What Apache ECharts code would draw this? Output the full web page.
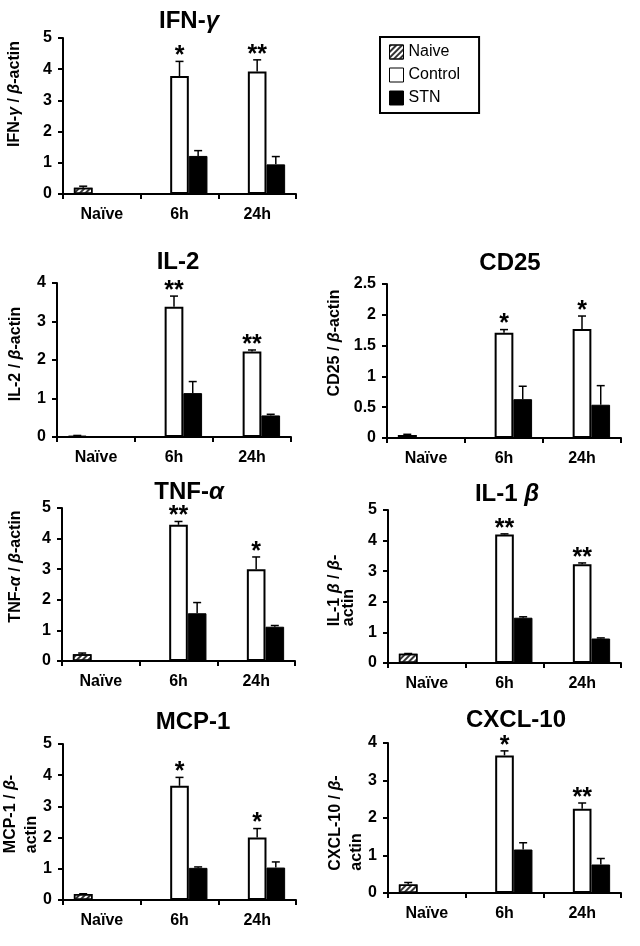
<!DOCTYPE html>
<html><head><meta charset="utf-8">
<script src="https://cdn.jsdelivr.net/npm/echarts@6/dist/echarts.min.js"></script>
<style>html,body{margin:0;padding:0;background:#fff}#c{width:640px;height:946px}</style>
</head><body><div id="c"></div>
<script>
// ---------- data ----------
const categories = ['Naïve', '6h', '24h'];
const seriesNames = ['Naive', 'Control', 'STN'];
const panelKeys = ['IFN-γ', 'IL-2', 'CD25', 'TNF-α', 'IL-1β', 'MCP-1', 'CXCL-10'];
const naiveMean     = [0.20, 0.03, 0.05, 0.22, 0.30, 0.19, 0.23];
const naiveErr      = [0.05, 0.01, 0.01, 0.04, 0.01, 0.01, 0.05];
const control6h     = [3.78, 3.38, 1.71, 4.45, 4.20, 3.66, 3.67];
const control6hErr  = [0.47, 0.28, 0.05, 0.11, 0.02, 0.27, 0.12];
const control24h    = [3.93, 2.22, 1.77, 3.00, 3.23, 2.00, 2.25];
const control24hErr = [0.37, 0.04, 0.21, 0.40, 0.04, 0.29, 0.15];
const stn6h         = [1.22, 1.14, 0.63, 1.56, 1.48, 1.03, 1.16];
const stn6hErr      = [0.17, 0.30, 0.21, 0.35, 0.03, 0.03, 0.18];
const stn24h        = [0.95, 0.56, 0.54, 1.12, 0.80, 1.04, 0.76];
const stn24hErr     = [0.25, 0.03, 0.31, 0.04, 0.02, 0.18, 0.16];
const sig6h  = [1, 2, 1, 2, 2, 1, 1];   // number of asterisks
const sig24h = [2, 2, 1, 1, 2, 1, 2];
const yMax  = [5, 4, 2.5, 5, 5, 5, 4];
const yStep = [1, 1, 0.5, 1, 1, 1, 1];

// ---------- text ----------
const titleTexts = ['IFN-{g|γ}', 'IL-2', 'CD25', 'TNF-{g|α}', 'IL-1 {g|β}', 'MCP-1', 'CXCL-10'];
const yNames = [
  '{n|IFN-}{g|γ}{n| / }{g|β}{n|-actin}',
  '{n|IL-2 / }{g|β}{n|-actin}',
  '{n|CD25 / }{g|β}{n|-actin}',
  '{n|TNF-}{g|α}{n| / }{g|β}{n|-actin}',
  '{n|IL-1 }{g|β}{n| / }{g|β}{n|-}\n{n|actin}',
  '{n|MCP-1 / }{g|β}{n|-}\n{n|actin}',
  '{n|CXCL-10 / }{g|β}{n|-}\n{n|actin}'
];

// ---------- layout ----------
const gridBoxes = [[63,38,233,156],[57,283,234,154],[387,284,234,154],[62,508,233,153],[388,510,233,153],[63,744,233,156],[388,743,233,150]];
const titleCenters = [[189,21],[178,262],[510,263],[189,492],[507,494],[193,722],[516,720]];
const nameShift = [22, 6, 18, 18, -4, 8, -5];
const nameGaps = [40, 33, 44, 38, 32, 19, 20];
const nameLineH = [17, 17, 17, 17, 14, 21, 21];

const FONT = 'Liberation Sans, Arial, sans-serif';
const BAR_FRAC = 0.24;

function renderErr(params, api) {
  const cat = api.value(0), v = api.value(1), e = api.value(2), slot = api.value(3), sig = api.value(4);
  const band = api.size([1, 0])[0];
  const base = api.coord([cat, v]);
  const x = base[0] + (slot - 1) * band * BAR_FRAC;
  const yTop = api.coord([cat, v + e])[1];
  const children = [
    {type: 'line', shape: {x1: x, y1: base[1], x2: x, y2: yTop}, style: {stroke: '#000', lineWidth: 1.5}},
    {type: 'line', shape: {x1: x - 4, y1: yTop, x2: x + 4, y2: yTop}, style: {stroke: '#000', lineWidth: 1.5}}
  ];
  if (sig > 0) {
    children.push({type: 'text', x: x, y: yTop - 5, style: {
      text: '*'.repeat(sig), fill: '#000', font: 'bold 25px ' + FONT, align: 'center', verticalAlign: 'middle'}});
  }
  return {type: 'group', children};
}

const option = {
  backgroundColor: '#fff',
  animation: false,
  title: [], grid: [], xAxis: [], yAxis: [], series: [],
  legend: {
    data: seriesNames, orient: 'vertical', left: 380, top: 37,
    padding: [7, 19, 7, 9], itemGap: 7, itemWidth: 14, itemHeight: 14,
    borderColor: '#000', borderWidth: 2, icon: 'rect',
    itemStyle: {borderWidth: 1, borderColor: '#000'},
    textStyle: {fontSize: 16, color: '#000', fontFamily: FONT}
  }
};

panelKeys.forEach((key, i) => {
  const [gl, gt, gw, gh] = gridBoxes[i];
  option.title.push({
    text: titleTexts[i], left: titleCenters[i][0], top: titleCenters[i][1],
    textAlign: 'center', textVerticalAlign: 'middle', padding: 0,
    textStyle: {fontSize: 24, fontWeight: 'bold', color: '#000', fontFamily: FONT,
      rich: {g: {fontSize: 24, fontWeight: 'bold', fontStyle: 'italic', color: '#000', fontFamily: FONT}}}
  });
  option.grid.push({left: gl, top: gt, width: gw, height: gh, containLabel: false, outerBoundsMode: 'none'});
  option.xAxis.push({
    type: 'category', gridIndex: i, data: categories,
    axisLine: {lineStyle: {color: '#000', width: 2}},
    axisTick: {show: true, length: 5, lineStyle: {color: '#000', width: 2}},
    axisLabel: {color: '#000', fontWeight: 'bold', fontSize: 16, fontFamily: FONT, margin: 13},
    splitLine: {show: false}
  });
  const sh = nameShift[i];
  const tokenStyle = {fontSize: 16, fontWeight: 'bold', color: '#000', fontFamily: FONT, lineHeight: nameLineH[i], align: 'left'};
  option.yAxis.push({
    type: 'value', gridIndex: i, min: 0, max: yMax[i], interval: yStep[i],
    axisLine: {show: true, lineStyle: {color: '#000', width: 2}},
    axisTick: {show: true, length: 5, lineStyle: {color: '#000', width: 2}},
    axisLabel: {color: '#000', fontWeight: 'bold', fontSize: 16, fontFamily: FONT, margin: 11},
    splitLine: {show: false},
    name: yNames[i], nameLocation: 'middle', nameRotate: 90, nameGap: nameGaps[i],
    nameTextStyle: {
      padding: sh >= 0 ? [0, 0, 0, 2 * sh] : [0, -2 * sh, 0, 0],
      rich: {n: tokenStyle, g: Object.assign({}, tokenStyle, {fontStyle: 'italic'})}
    }
  });
  option.series.push({
    name: 'Naive', type: 'bar', xAxisIndex: i, yAxisIndex: i,
    data: [naiveMean[i], null, null], barWidth: (BAR_FRAC * 100) + '%', barGap: '0%',
    itemStyle: {color: '#fff', borderColor: '#000', borderWidth: 1.5,
      decal: {symbol: 'rect', symbolSize: 1, dashArrayX: [1, 0], dashArrayY: [1.5, 2], rotation: -Math.PI / 4, color: '#333'}}
  });
  option.series.push({
    name: 'Control', type: 'bar', xAxisIndex: i, yAxisIndex: i,
    data: [null, control6h[i], control24h[i]], barWidth: (BAR_FRAC * 100) + '%', barGap: '0%',
    itemStyle: {color: '#fff', borderColor: '#000', borderWidth: 2}
  });
  option.series.push({
    name: 'STN', type: 'bar', xAxisIndex: i, yAxisIndex: i,
    data: [null, stn6h[i], stn24h[i]], barWidth: (BAR_FRAC * 100) + '%', barGap: '0%',
    itemStyle: {color: '#000', borderColor: '#000', borderWidth: 1}
  });
  option.series.push({
    name: 'err-' + key, type: 'custom', xAxisIndex: i, yAxisIndex: i, z: 5, clip: false,
    renderItem: renderErr, encode: {x: 0, y: 1},
    data: [
      [0, naiveMean[i], naiveErr[i], 0, 0],
      [1, control6h[i], control6hErr[i], 1, sig6h[i]],
      [2, control24h[i], control24hErr[i], 1, sig24h[i]],
      [1, stn6h[i], stn6hErr[i], 2, 0],
      [2, stn24h[i], stn24hErr[i], 2, 0]
    ]
  });
});

const chart = echarts.init(document.getElementById('c'), null, {renderer: 'canvas'});
chart.setOption(option);
</script>
</body></html>
